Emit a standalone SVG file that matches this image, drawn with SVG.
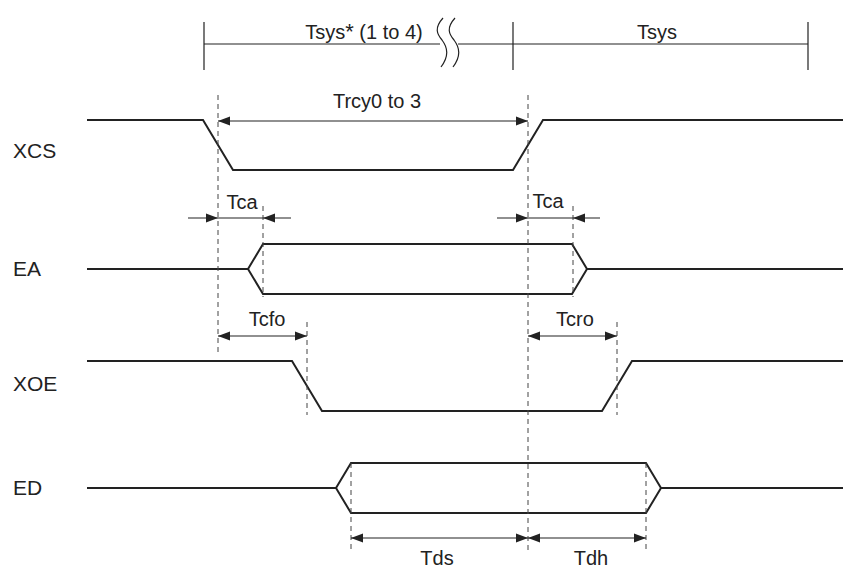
<svg xmlns="http://www.w3.org/2000/svg" width="846" height="569" viewBox="0 0 846 569">
<style>
.sig{fill:none;stroke:#222;stroke-width:2;stroke-linejoin:miter}
.dim{fill:none;stroke:#222;stroke-width:1.2}
.dash{fill:none;stroke:#444;stroke-width:1;stroke-dasharray:5 4}
.lbl{font-family:"Liberation Sans",Arial,sans-serif;font-size:20px;fill:#222}
.sl{font-size:21px}
.mid{text-anchor:middle}
.ah{fill:#222}
</style>
<defs>
<marker id="arr" markerUnits="userSpaceOnUse" markerWidth="14" markerHeight="10" refX="12" refY="5" orient="auto-start-reverse">
<path d="M0,0.5 L12,5 L0,9.5 Z" fill="#222"/>
</marker>
</defs>
<rect width="846" height="569" fill="#fff"/>

<g id="timescale">
<path class="dim" d="M204,44 H440 M458,44 H808"/>
<path class="dim" d="M204,22 V70 M513,22 V70 M808,22 V70"/>
<path class="dim" d="M443,18 C434,28 437,34 442,40 C448,48 449,56 441,67"/>
<path class="dim" d="M455,18 C446,28 449,34 454,40 C460,48 461,56 453,67"/>
<text class="lbl mid" x="364" y="39">Tsys<tspan font-size="22">*</tspan> (1 to 4)</text>
<text class="lbl mid" x="657" y="39">Tsys</text>
</g>

<g id="XCS">
<text class="lbl sl" x="13" y="158">XCS</text>
<path class="sig" d="M87,120 H203 L233,170 H513 L543,120 H843"/>
</g>

<g id="EA">
<text class="lbl sl" x="13" y="276">EA</text>
<path class="sig" d="M87,269 H248 L263,244 H572 L587,269 H843"/>
<path class="sig" d="M248,269 L263,294 H572 L587,269"/>
</g>

<g id="XOE">
<text class="lbl sl" x="13" y="391">XOE</text>
<path class="sig" d="M87,361 H292 L322,411 H602 L632,361 H843"/>
</g>

<g id="ED">
<text class="lbl sl" x="13" y="495">ED</text>
<path class="sig" d="M87,488 H336 L351,463 H646 L661,488 H843"/>
<path class="sig" d="M336,488 L351,513 H646 L661,488"/>
</g>

<g id="guides">
<path class="dash" d="M218,95 V355"/>
<path class="dash" d="M528,95 V550"/>
<path class="dash" d="M263,206 V297"/>
<path class="dash" d="M573,206 V297"/>
<path class="dash" d="M307,322 V415"/>
<path class="dash" d="M617,322 V415"/>
<path class="dash" d="M351,463 V550"/>
<path class="dash" d="M646,463 V550"/>
</g>

<g id="connectors">
<line class="dim" x1="218" y1="121" x2="528" y2="121" marker-start="url(#arr)" marker-end="url(#arr)"/>
<text class="lbl mid" x="377" y="108">Trcy0 to 3</text>

<line class="dim" x1="188" y1="218" x2="291" y2="218"/>
<path class="ah" d="M206,213.5 L218,218 L206,222.5 Z"/>
<path class="ah" d="M275,213.5 L263,218 L275,222.5 Z"/>
<text class="lbl mid" x="242" y="209">Tca</text>

<line class="dim" x1="497" y1="218" x2="600" y2="218"/>
<path class="ah" d="M516,213.5 L528,218 L516,222.5 Z"/>
<path class="ah" d="M585,213.5 L573,218 L585,222.5 Z"/>
<text class="lbl mid" x="548" y="208">Tca</text>

<line class="dim" x1="218" y1="336" x2="307" y2="336" marker-start="url(#arr)" marker-end="url(#arr)"/>
<text class="lbl mid" x="267" y="326">Tcfo</text>

<line class="dim" x1="528" y1="336" x2="617" y2="336" marker-start="url(#arr)" marker-end="url(#arr)"/>
<text class="lbl mid" x="575" y="326">Tcro</text>

<line class="dim" x1="351" y1="538" x2="528" y2="538" marker-start="url(#arr)" marker-end="url(#arr)"/>
<text class="lbl mid" x="437" y="565">Tds</text>

<line class="dim" x1="528" y1="538" x2="646" y2="538" marker-start="url(#arr)" marker-end="url(#arr)"/>
<text class="lbl mid" x="591" y="565">Tdh</text>
</g>
</svg>
